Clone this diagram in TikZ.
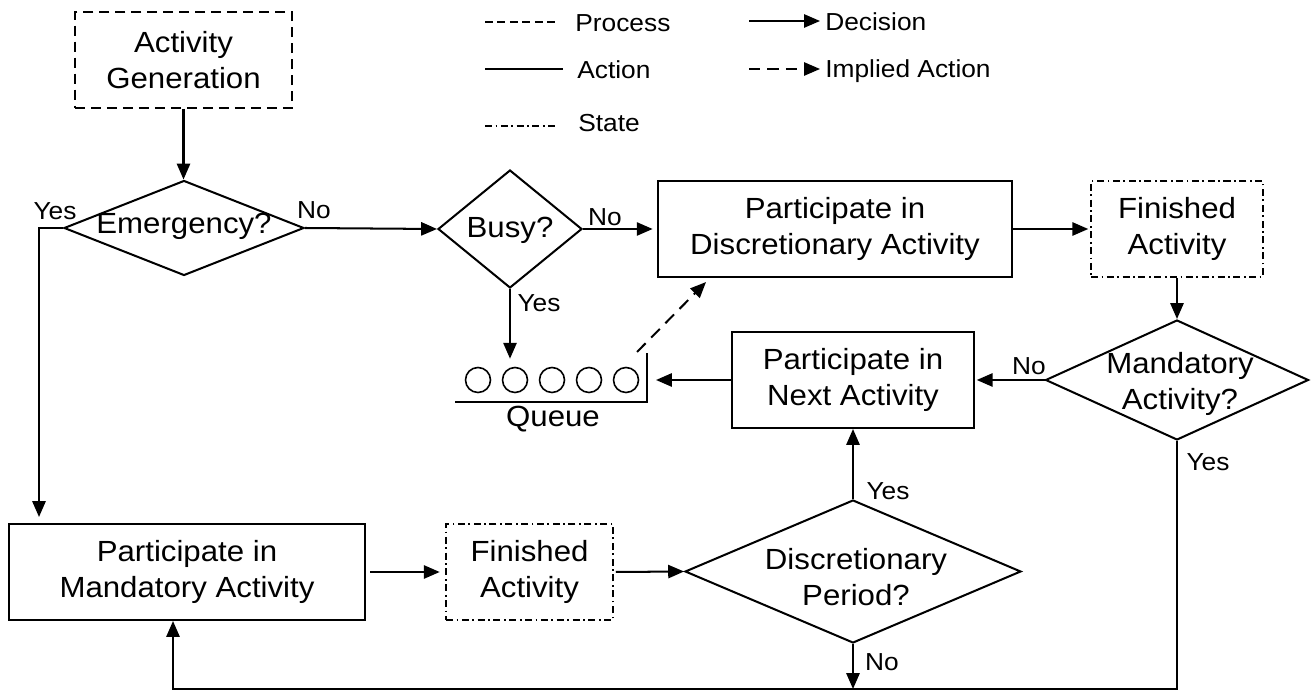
\documentclass[tikz,border=0pt]{standalone}
\usepackage{fontspec}
\setmainfont{Liberation Sans}[FakeStretch=1.07]
\usetikzlibrary{shapes.geometric,arrows.meta,calc}

\newcommand\bigtxt{\fontsize{16.6pt}{20.4pt}\selectfont}
\newcommand\tagtxt{\fontsize{14pt}{16pt}\selectfont}
\newcommand\keytxt{\fontsize{14pt}{16pt}\selectfont}

\tikzset{
  base/.style={line width=1.15pt},
  arr/.style={base, -{Triangle[length=9pt,width=7.5pt]}},
  implied/.style={arr, dash pattern=on 7pt off 4.5pt},
  actionbox/.style={draw, base, rectangle, inner sep=0pt, minimum height=1.92cm,
                    align=center, font=\bigtxt},
  processbox/.style={actionbox, dash pattern=on 5.7pt off 3.4pt},
  statebox/.style={actionbox, dash pattern=on 4pt off 2pt on 1pt off 2pt},
  decision/.style={draw, base, diamond, inner sep=0pt},
  dtext/.style={align=center, font=\bigtxt, inner sep=0pt},
  yn/.style={font=\tagtxt, inner sep=0pt},
  legtext/.style={anchor=west, font=\keytxt, inner sep=0pt},
  keyline/.style={line width=0.9pt},
  qslot/.style={draw, circle, line width=0.9pt, minimum size=0.5cm, inner sep=0pt},
}

\begin{document}
\begin{tikzpicture}[x=0.02cm, y=-0.02cm]
\useasboundingbox (0,0) rectangle (1316,692);

% ---- key ----
\node[legtext] (kproc)  at (575,23.5) {Process};
\node[legtext] (kact)   at (577,70)   {Action};
\node[legtext] (kstate) at (578,123.5) {State};
\node[legtext] (kdec)   at (825,22)   {Decision};
\node[legtext] (kimp)   at (825,71)   {Implied Action};
\draw[keyline, dash pattern=on 4.5pt off 2.6pt] ($(kproc.west)+(-90,-1.5)$) -- ++(73,0);
\draw[keyline] ($(kact.west)+(-92,-1)$) -- ++(78,0);
\draw[keyline, dash pattern=on 4pt off 2pt on 1pt off 2pt] ($(kstate.west)+(-93,2.5)$) -- ++(73,0);
\draw[arr, line width=1pt] ($(kdec.west)+(-76,-1)$) -- ++(71,0);
\draw[arr, line width=1pt, dash pattern=on 6.5pt off 4pt] ($(kimp.west)+(-76,-2)$) -- ++(71,0);

% ---- nodes ----
\node[processbox, minimum width=4.34cm] (gen) at (183.5,60) {Activity\\Generation};

\node[decision, minimum width=4.8cm, minimum height=1.9cm] (emg) at (184,228) {};
\node[dtext] (emgtxt) at (184,226) {Emergency?};

\node[decision, minimum width=2.88cm, minimum height=2.36cm] (busy) at (510,229) {};
\node[dtext] (busytxt) at (510,230.5) {Busy?};

\node[actionbox, minimum width=7.08cm] (disc) at (835,229) {Participate in\\Discretionary Activity};
\node[statebox, minimum width=3.44cm] (fin1) at (1177,229) {Finished\\Activity};

\node[decision, minimum width=5.26cm, minimum height=2.4cm] (mand) at (1177,380) {};
\node[dtext] (mandtxt) at (1180,384) {Mandatory\\Activity?};

\node[actionbox, minimum width=4.84cm] (next) at (853,380) {Participate in\\Next Activity};

\foreach \i/\qx in {1/478,2/515,3/552,4/589,5/626}
  \node[qslot] (q\i) at (\qx,380) {};
\coordinate (qleft) at (455,402);
\coordinate (qcorner) at (647,402);
\coordinate (qtop) at (647,353);
\draw[base] (qleft) -- (qcorner) -- (qtop);
\node[dtext] (qlabel) at (553,419) {Queue};

\node[actionbox, minimum width=7.12cm] (mbox) at (187,572) {Participate in\\Mandatory Activity};
\node[statebox, minimum width=3.34cm] (fin2) at (529.5,572) {Finished\\Activity};

\node[decision, minimum width=6.72cm, minimum height=2.86cm] (dper) at (853,571.5) {};
\node[dtext] (dpertxt) at (856,577) {Discretionary\\Period?};

\coordinate (ydrop) at (39,517);
\coordinate (loop) at (173,689);

% ---- connectors ----
\draw[arr] (gen.south) -- (gen.south |- emg.north);
\draw[arr] (emg.east) -- (busy.west);
\node[yn] at (314,210) {No};
\draw[arr] (emg.west) -| (ydrop);
\node[yn] at (55,211) {Yes};

\draw[arr, shorten >=2.5pt] (busy.east) -- (disc.west);
\node[yn] at (605,217) {No};
\draw[arr] (busy.south) -- ($(busy.south |- q2.north)+(0,-8)$);
\node[yn] at (539,303) {Yes};
\draw[implied] ($(qtop)+(-10,-1)$) -- ($(disc.south west)+(49,4)$);

\draw[arr, shorten >=1pt] (disc.east) -- (fin1.west);
\draw[arr] (fin1.south) -- (mand.north);
\draw[arr, shorten >=1pt] (mand.west) -- (next.east);
\node[yn] at (1029,366) {No};
\draw[arr] (next.west) -- ($(qcorner |- next.west)+(9,0)$);

\draw[arr] (mand.south) |- (loop) -- (loop |- mbox.south);
\node[yn] at (1208,462) {Yes};

\draw[arr] (dper.north) -- (next.south);
\node[yn] at (888,491) {Yes};
\draw[arr] (dper.south) -- (dper.south |- loop);
\node[yn] at (882,662) {No};

\draw[arr, shorten <=2.5pt, shorten >=3pt] (mbox.east) -- (fin2.west);
\draw[arr, shorten <=1pt] (fin2.east) -- (dper.west);
\end{tikzpicture}
\end{document}
